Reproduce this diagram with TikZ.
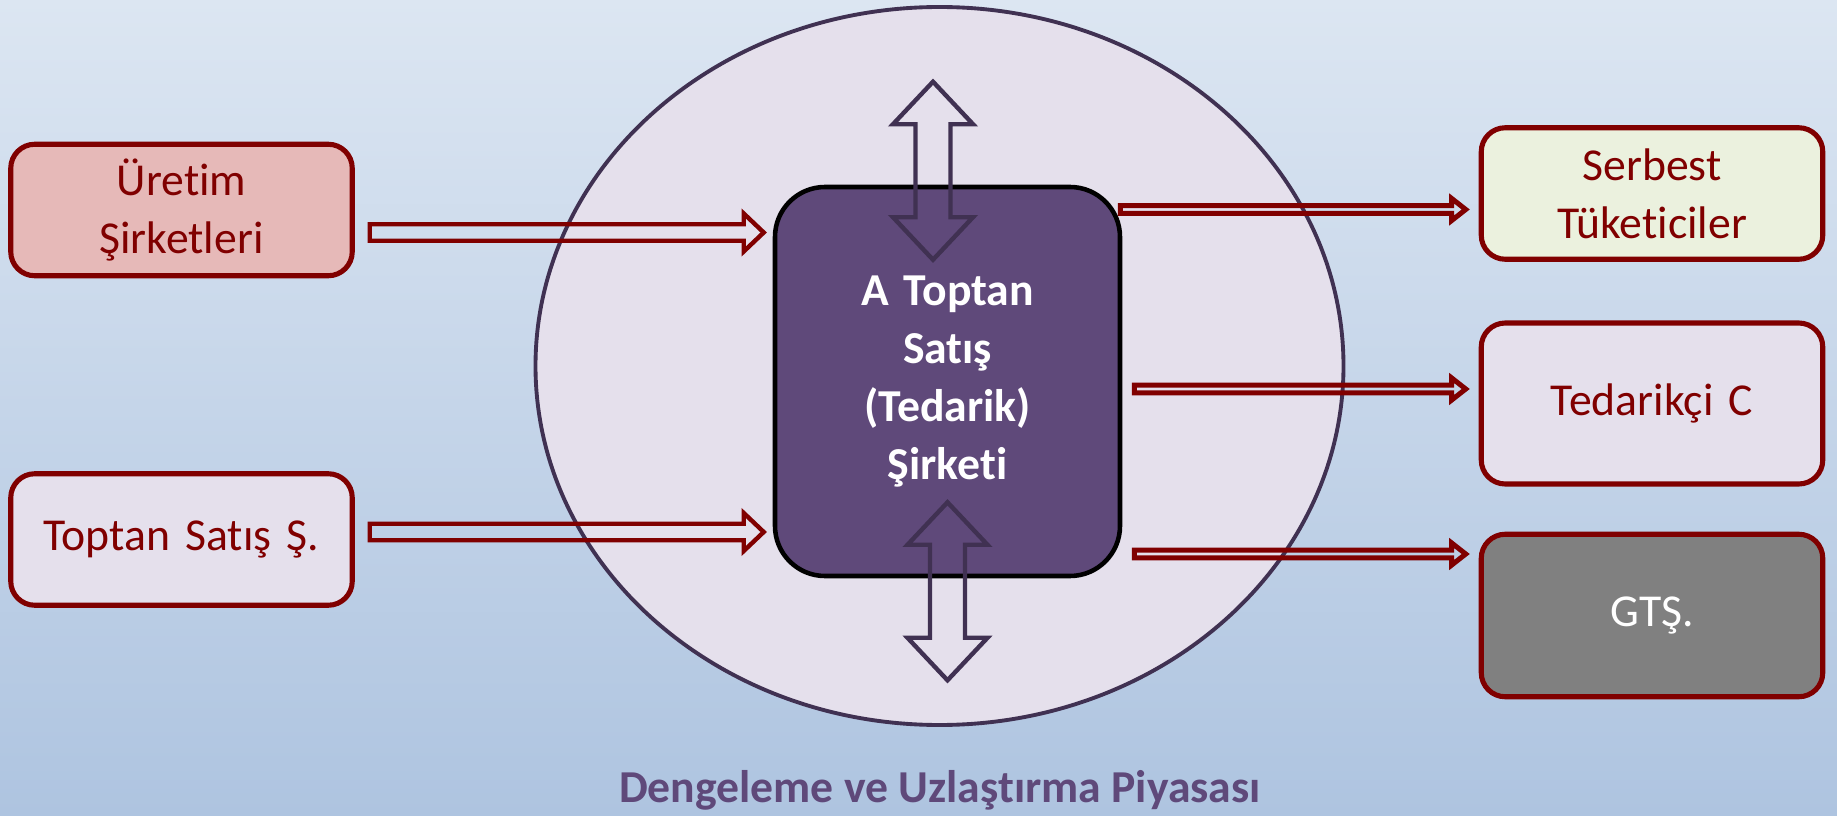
\documentclass[tikz,border=0pt]{standalone}
\usepackage{fontspec}
\setmainfont{Carlito}[Ligatures={NoCommon}]
\usepackage{tikz}
\usetikzlibrary{shapes.geometric, calc}
\definecolor{boxred}{RGB}{128,0,0}
\definecolor{uretimfill}{RGB}{230,185,184}
\definecolor{lilac}{RGB}{229,224,236}
\definecolor{creamfill}{RGB}{235,241,222}
\definecolor{gtsfill}{RGB}{128,128,128}
\definecolor{companyfill}{RGB}{95,73,122}
\definecolor{marketline}{RGB}{64,49,82}
\definecolor{bgtop}{RGB}{220,230,242}
\definecolor{bgbottom}{RGB}{174,196,224}
\tikzstyle{market} =
[ellipse, minimum width = 16.16cm, minimum height = 14.36cm,
draw=marketline, fill=lilac, line width=2.2pt]
\tikzstyle{company} =
[rectangle, rounded corners=1cm, minimum width = 6.9cm, minimum height = 7.78cm,
text centered, text width = 6cm, draw=black, fill=companyfill, line width=2.6pt,
text=white, font=\fontsize{26}{33}\selectfont\bfseries]
\tikzstyle{player} =
[rectangle, rounded corners=0.48cm, minimum width = 6.83cm, minimum height = 2.63cm,
text centered, text width = 6.4cm, draw=boxred, line width=2.9pt,
text=boxred, font=\fontsize{26}{33}\selectfont]
\tikzstyle{caption} = [text=companyfill, font=\fontsize{26}{33}\selectfont\bfseries]
\tikzstyle{inflow} = [draw=boxred, line width=2.5pt]
\tikzstyle{outflow} = [draw=boxred, line width=2.85pt]
\tikzstyle{exchange} = [draw=marketline, line width=2.5pt]
% hollow block arrow pointing right: style, start, tip, shaft, head, head length
\newcommand{\blockarrow}[6]{%
  \draw[#1] ($(#2)+(0,#4)$) -- ($(#3)+(-#6,#4)$) -- ($(#3)+(-#6,#5)$) -- (#3)
    -- ($(#3)+(-#6,-#5)$) -- ($(#3)+(-#6,-#4)$) -- ($(#2)+(0,-#4)$) -- cycle;}
% hollow up-down block arrow: style, top tip, bottom tip, shaft, head, head length
\newcommand{\vblockarrow}[6]{%
  \draw[#1] (#2) -- ($(#2)+(#5,-#6)$) -- ($(#2)+(#4,-#6)$) -- ($(#3)+(#4,#6)$)
    -- ($(#3)+(#5,#6)$) -- (#3) -- ($(#3)+(-#5,#6)$) -- ($(#3)+(-#4,#6)$)
    -- ($(#2)+(-#4,-#6)$) -- ($(#2)+(-#5,-#6)$) -- cycle;}

\begin{document}
\begin{tikzpicture}
  \useasboundingbox (0,0) rectangle (36.74,16.3);
  \shade [top color=bgtop, bottom color=bgbottom] (0,0) rectangle (36.74,16.3);
  % market and wholesale company
  \node [market] (market) at (18.79,8.98) {};
  \node [company] (center) at (18.95,8.67)
   {A Toptan\\ Satış\\ (Tedarik)\\ Şirketi};
  \node [caption, anchor=base] (title) at (18.8,0.26)
   {Dengeleme ve Uzlaştırma Piyasası};
  %
  % sellers on the left
  \node [player, fill=uretimfill] (uretim) at (3.63,12.1) {Üretim\\ Şirketleri};
  \node [player, fill=lilac, below of=uretim, node distance=6.59cm] (toptan)
   {Toptan Satış Ş.};
  %
  % buyers on the right
  \node [player, fill=creamfill] (serbest) at (33.04,12.43)
   {Serbest\\ Tüketiciler};
  \node [player, fill=lilac, minimum height=3.22cm, below of=serbest,
   node distance=4.2cm] (tedarik) {Tedarikçi C};
  \node [player, fill=gtsfill, text=white, minimum height=3.25cm,
   below of=tedarik, node distance=4.24cm] (gts) {GTŞ.};
  %
  % arrow ends
  \coordinate (in1e) at ($(center.west)+(-0.18,2.98)$);
  \coordinate (in1s) at ($(uretim.east |- in1e)+(0.3,0)$);
  \coordinate (in2e) at ($(center.west)+(-0.18,-3.01)$);
  \coordinate (in2s) at ($(toptan.east |- in2e)+(0.3,0)$);
  \coordinate (out1s) at ($(center.east)+(-0.04,3.44)$);
  \coordinate (out1e) at ($(serbest.west |- out1s)+(-0.26,0)$);
  \coordinate (out2s) at ($(center.east)+(0.24,-0.15)$);
  \coordinate (out2e) at ($(tedarik.west |- out2s)+(-0.26,0)$);
  \coordinate (out3s) at ($(center.east)+(0.24,-3.45)$);
  \coordinate (out3e) at ($(gts.west |- out3s)+(-0.26,0)$);
  \coordinate (uptop) at ($(center.north)+(-0.29,2.06)$);
  \coordinate (upbot) at ($(center.north)+(-0.29,-1.5)$);
  \coordinate (downtop) at ($(center.south)+(0,1.52)$);
  \coordinate (downbot) at ($(center.south)+(0,-2.04)$);
  %
  % arrows
  \blockarrow{inflow}{in1s}{in1e}{0.165}{0.38}{0.4}
  \blockarrow{inflow}{in2s}{in2e}{0.165}{0.38}{0.4}
  \blockarrow{outflow}{out1s}{out1e}{0.077}{0.22}{0.28}
  \blockarrow{outflow}{out2s}{out2e}{0.077}{0.22}{0.28}
  \blockarrow{outflow}{out3s}{out3e}{0.077}{0.22}{0.28}
  \vblockarrow{exchange}{uptop}{upbot}{0.35}{0.8}{0.85}
  \vblockarrow{exchange}{downtop}{downbot}{0.35}{0.8}{0.85}
\end{tikzpicture}
\end{document}
